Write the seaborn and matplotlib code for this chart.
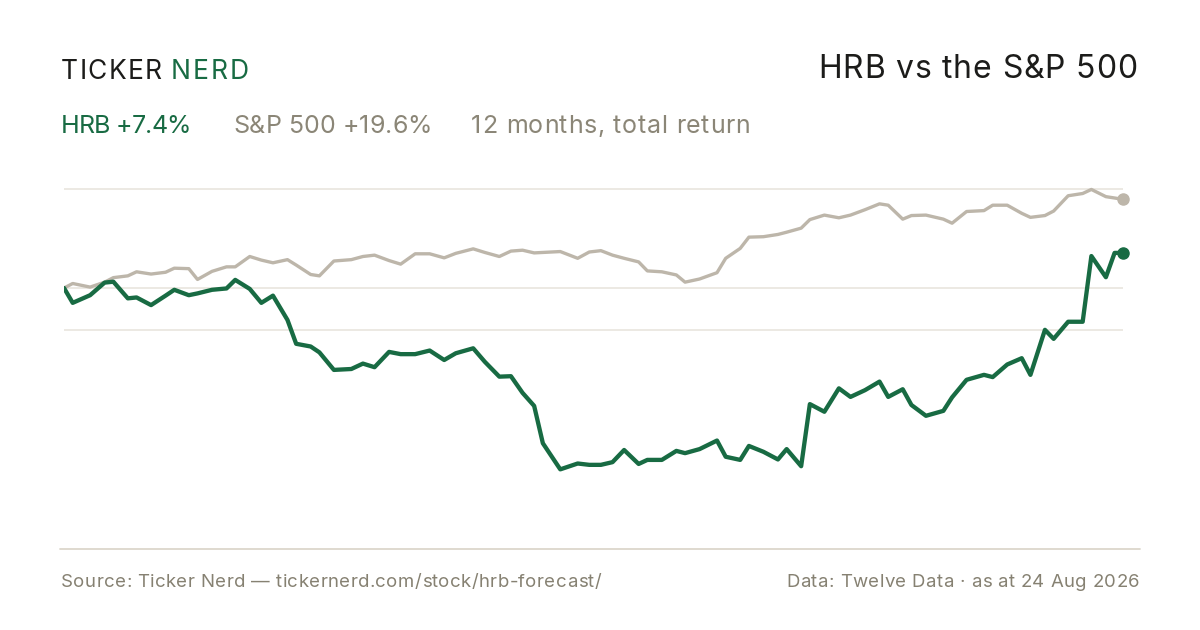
import matplotlib
matplotlib.use("Agg")
import matplotlib.pyplot as plt
import seaborn as sns
import pandas as pd
from matplotlib.lines import Line2D

# ---- data (days since start, % total return) ----
days = [0, 3, 9, 14, 17, 22, 25, 30, 35, 38, 43, 46, 51, 56, 59, 64, 68, 72, 77, 80,
        85, 88, 93, 99, 103, 107, 112, 116, 121, 126, 131, 135, 141, 145, 150, 154, 158, 162, 165, 171,
        177, 181, 185, 189, 193, 198, 201, 206, 211, 214, 219, 225, 228, 233, 236, 241, 246, 249, 254, 257,
        262, 267, 271, 276, 281, 284, 289, 292, 297, 303, 306, 311, 317, 320, 325, 330, 333, 338, 341, 346,
        351, 354, 359, 362, 365]
spx = [0.0, 1.0, 0.2, 1.3, 2.3, 2.7, 3.6, 3.1, 3.5, 4.4, 4.3, 1.9, 3.7, 4.7, 4.7, 7.0, 6.2, 5.6, 6.3, 5.1,
       3.0, 2.7, 6.0, 6.3, 7.0, 7.3, 6.1, 5.3, 7.6, 7.6, 6.7, 7.7, 8.7, 7.9, 7.0, 8.2, 8.4, 7.8, 7.9, 8.1,
       6.6, 8.0, 8.3, 7.3, 6.6, 5.8, 3.8, 3.6, 2.9, 1.3, 2.0, 3.4, 6.6, 8.8, 11.3, 11.4, 11.9, 12.4, 13.3, 15.2,
       16.2, 15.6, 16.2, 17.4, 18.7, 18.4, 15.3, 16.1, 16.2, 15.3, 14.4, 17.0, 17.2, 18.4, 18.4, 16.6, 15.7, 16.1, 17.1, 20.5,
       21.0, 21.9, 20.3, 20.0, 19.7]
hrb = [0.0, -3.3, -1.6, 1.2, 1.4, -2.3, -2.1, -3.8, -1.7, -0.4, -1.6, -1.2, -0.4, -0.1, 1.8, -0.2, -3.3, -1.7, -7.1, -12.4,
       -13.0, -14.3, -18.2, -18.0, -16.8, -17.6, -14.2, -14.7, -14.7, -13.9, -16.0, -14.5, -13.4, -16.4, -19.7, -19.6, -23.3, -26.2, -34.5, -40.3,
       -39.0, -39.3, -39.3, -38.7, -36.0, -39.1, -38.2, -38.2, -36.2, -36.7, -35.8, -33.9, -37.5, -38.2, -35.1, -36.4, -38.1, -35.8, -39.6, -25.8,
       -27.5, -22.3, -24.2, -22.7, -20.8, -24.2, -22.5, -26.0, -28.4, -27.3, -24.3, -20.4, -19.3, -19.8, -17.0, -15.6, -19.3, -9.3, -11.3, -7.5,
       -7.5, 7.1, 2.4, 7.8, 7.8]
grid_levels = [21.9, 0.0, -9.3]

brand_left = "TICKER"
brand_right = "NERD"
title = "HRB vs the S&P 500"
legend_hrb = "HRB +7.4%"
legend_spx = "S&P 500 +19.6%"
legend_note = "12 months, total return"
source_txt = "Source: Ticker Nerd \u2014 tickernerd.com/stock/hrb-forecast/"
data_txt = "Data: Twelve Data \u00b7 as at 24 Aug 2026"

GREEN = "#186b43"
GREY_LINE = "#bdb6aa"
GREY_TXT = "#8b8677"
FOOT_TXT = "#868172"
DARK = "#1c1c1a"
GRID = "#ebe7e0"
RULE = "#dcd7cc"

sns.set_theme(style="white")
plt.rcParams["font.family"] = ["Inter", "DejaVu Sans"]

W, H = 1200, 630
fig = plt.figure(figsize=(12, 6.3), dpi=100, facecolor="white")

def fx(px):
    return px / W

def fy(py):
    return (H - py) / H

# axes: x 64..1123, y px 170..540 ; 0% at y=288, 4.5 px per %
ax_l, ax_r, ax_t, ax_b = 64, 1123.3, 170, 540
ax = fig.add_axes([fx(ax_l), fy(ax_b), (ax_r - ax_l) / W, (ax_b - ax_t) / H])
ax.set_xlim(days[0], days[-1])
ax.set_ylim((288 - ax_b) / 4.5, (288 - ax_t) / 4.5)
ax.axis("off")

for g in grid_levels:
    ax.axhline(g, color=GRID, lw=1.3, zorder=0)

df = pd.DataFrame({"day": days, "spx": spx, "hrb": hrb})
sns.lineplot(data=df, x="day", y="spx", ax=ax, color=GREY_LINE, lw=2.4, zorder=2,
             solid_joinstyle="round", solid_capstyle="round")
sns.lineplot(data=df, x="day", y="hrb", ax=ax, color=GREEN, lw=3.1, zorder=3,
             solid_joinstyle="round", solid_capstyle="round")
ax.plot([days[-1]], [spx[-1]], "o", color=GREY_LINE, ms=8, clip_on=False, zorder=4)
ax.plot([days[-1]], [hrb[-1]], "o", color=GREEN, ms=8, clip_on=False, zorder=5)

# bottom rule
fig.add_artist(Line2D([fx(60), fx(1140)], [fy(549), fy(549)], color=RULE, lw=1.3))

# ---- texts (with letter spacing to match the reference widths) ----
renderer = fig.canvas.get_renderer()
_probe = fig.text(0, 0, "", fontsize=10)

def ink_width(s, size):
    _probe.set_text(s)
    _probe.set_fontsize(size)
    return _probe.get_window_extent(renderer).width

def tracked(s, x0, width, y, size, color, ha="left"):
    total = ink_width(s, size)
    gap = (width - total) / (len(s) - 1)
    if ha == "right":
        x0 = x0 - width
    for i, ch in enumerate(s):
        if ch == " ":
            continue
        left = ink_width(s[:i + 1], size) - ink_width(ch, size) if i > 0 else 0.0
        fig.text(fx(x0 + left + i * gap), fy(y), ch, fontsize=size, color=color,
                 va="baseline", ha="left")

tracked(brand_left, 61, 100.5, 79.3, 19, DARK)
tracked(brand_right, 171, 78, 79.3, 19, GREEN)

tracked(title, 1137, 319, 78.3, 23, DARK, ha="right")

tracked(legend_hrb, 61, 130, 133, 18, GREEN)
tracked(legend_spx, 233, 199, 133, 18, GREY_TXT)
tracked(legend_note, 471, 279, 133, 18, GREY_TXT)

tracked(source_txt, 61, 540, 587, 13.4, FOOT_TXT)
tracked(data_txt, 1139.5, 353, 587, 13.4, FOOT_TXT, ha="right")

_probe.set_text("")
fig.savefig("out.png", dpi=100, facecolor="white")
